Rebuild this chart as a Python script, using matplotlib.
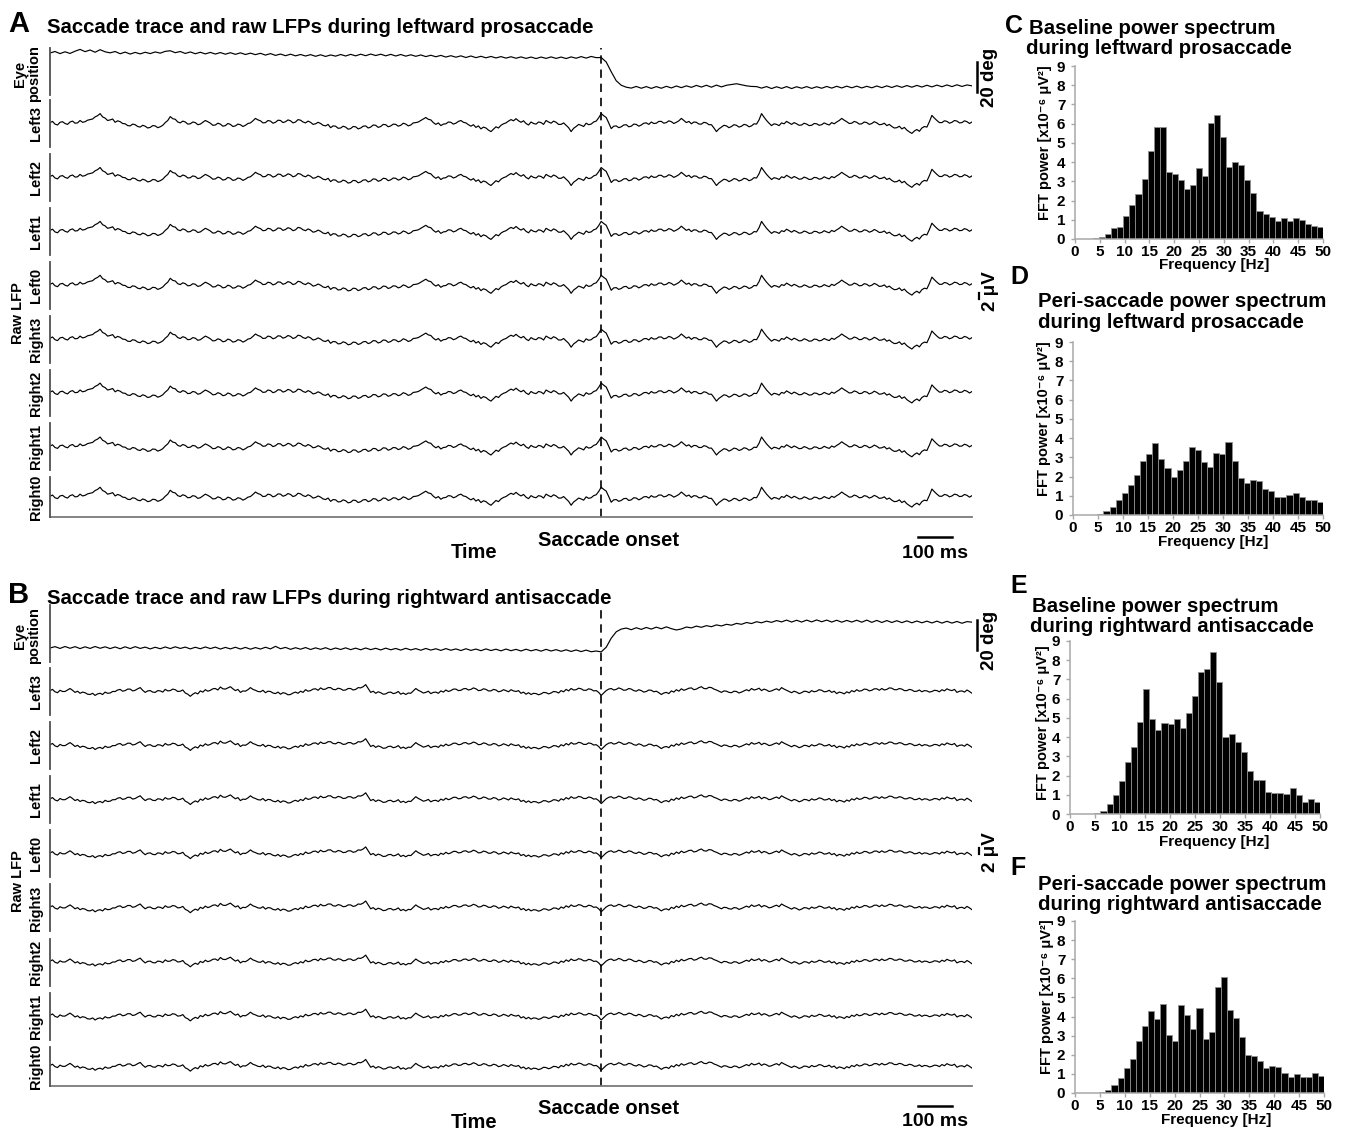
import numpy as np
import matplotlib
matplotlib.use("Agg")
import matplotlib.pyplot as plt
from matplotlib.lines import Line2D
from matplotlib import transforms

plt.rcParams['font.family'] = ['Liberation Sans', 'DejaVu Sans']
plt.rcParams['font.weight'] = 'bold'

W, H = 1345, 1133

# ---------------- data ----------------
channels = ["Left3", "Left2", "Left1", "Left0", "Right3", "Right2", "Right1", "Right0"]
T_START, T_END = -1620.0, 1090.0   # ms, saccade onset at 0

# Panel A: eye position (deg) - leftward prosaccade
eye_A = [0.0, 1.0, -0.4, 0.8, -0.3, 1.2, 2.4, 0.9, 2.0, 0.5,
         2.2, 0.8, 0.1, 1.0, -0.5, 0.6, -0.7, 0.4, -0.6, 0.5,
         -0.4, 0.7, -0.1, 1.1, 1.5, 0.2, 1.0, -0.3, 0.7, -0.5,
         0.5, -0.6, 0.4, -0.7, 0.3, -0.8, 0.2, -0.9, 0.1, -1.0,
         -0.1, -1.1, -0.2, -1.4, -0.4, -1.6, -0.7, -1.8, -0.8, -1.9,
         -1.0, -2.0, -1.1, -2.2, -1.2, -2.3, -1.3, -2.1, -1.0, -2.0,
         -0.9, -1.9, -0.8, -1.8, -0.7, -1.7, -0.8, -1.9, -0.9, -2.0,
         -1.0, -2.1, -1.2, -2.2, -1.3, -2.4, -1.5, -2.5, -1.6, -2.7,
         -1.8, -2.8, -1.9, -3.0, -2.0, -3.1, -2.2, -3.2, -2.3, -3.3,
         -2.4, -3.4, -2.5, -3.5, -2.6, -3.6, -2.7, -3.7, -2.7, -3.6,
         -2.6, -3.6, -2.7, -3.7, -2.6, -3.5, -2.4, -3.4, -2.3, -3.1,
         -3.0, -6.0, -12.5, -18.5, -21.5, -22.8, -23.4, -22.3, -23.5, -22.4,
         -23.6, -22.4, -23.5, -22.2, -23.3, -22.0, -23.1, -21.9, -22.9, -21.6,
         -22.7, -21.5, -22.8, -21.4, -22.6, -21.5, -21.0, -20.5, -21.2, -21.9,
         -22.3, -22.4, -23.4, -22.4, -23.7, -22.5, -23.6, -22.4, -23.7, -22.5,
         -23.5, -22.4, -23.6, -22.5, -23.5, -22.3, -23.4, -22.2, -23.3, -22.1,
         -23.2, -22.1, -23.3, -22.2, -23.2, -22.0, -23.1, -21.9, -23.0, -21.8,
         -22.9, -21.7, -22.8, -21.6, -22.7, -21.5, -22.6, -21.4, -22.5, -21.3,
         -22.4, -21.2, -22.3, -21.3, -21.9]

# Panel A: raw LFP waveform (uV), shared shape across channels
lfp_A = [0.3, 0.7, -0.2, -0.5, 0.4, 0.6, 0.0, -0.3, 0.5, 0.8,
         0.1, 0.2, 1.0, 0.4, 0.6, 1.1, 1.3, 1.5, 2.2, 2.6,
         3.3, 2.2, 1.8, 1.0, 1.2, 1.5, 0.4, 0.9, 0.6, 0.0,
         -0.1, -0.7, -0.8, -0.2, -0.4, -1.0, -1.2, -0.6, -0.9, -1.5,
         -1.3, -0.7, -0.8, -1.4, -1.1, -0.6, 0.3, 1.0, 2.3, 1.6,
         1.4, 0.5, 0.2, 0.8, 0.5, -0.2, -0.1, 0.5, 0.3, -0.4,
         -0.2, 0.4, 1.0, 0.6, 0.1, -0.6, -0.5, 0.1, -0.2, -0.9,
         -0.7, 0.0, -0.3, -1.0, -0.8, -0.2, -0.4, -1.0, -0.6, 0.0,
         0.2, 0.9, 1.7, 1.2, 0.9, 0.2, 0.3, 1.0, 0.8, 0.1,
         0.4, 1.1, 1.0, 0.3, 0.6, 1.2, 0.9, 0.2, 0.5, 1.3,
         1.1, 0.5, 0.2, 0.8, 0.4, -0.3, -0.1, 0.4, 0.0, -0.6,
         -0.8, -0.3, -1.4, -0.8, -0.9, -1.6, -1.5, -0.9, -1.2, -1.9,
         -1.7, -1.0, -1.1, -1.8, -1.5, -0.9, -0.8, -1.5, -1.2, -0.5,
         -0.6, -1.3, -1.0, -0.3, -0.4, -1.1, -0.8, -0.2, -0.3, -0.9,
         -0.6, 0.1, -0.2, -0.8, -0.5, 0.2, 0.3, 0.5, 1.0, 1.5,
         2.0, 1.4, 1.2, 0.3, -0.3, 0.2, -0.7, -0.2, -0.1, 0.5,
         0.4, -0.2, 0.1, 0.7, 1.0, 0.4, 0.2, -0.4, -0.9, -0.4,
         -1.3, -0.8, -1.8, -1.2, -1.5, -2.2, -2.7, -1.9, -1.1, -1.5,
         -0.6, -0.1, 0.2, 0.8, 1.3, 0.9, 1.6, 0.9, 0.4, 0.9,
         0.0, -0.5, 0.5, 0.0, -0.2, 0.5, 0.3, -0.3, 1.0, 0.5,
         0.1, 0.8, 0.4, -0.3, -0.3, 0.2, -0.6, -1.4, -2.7, -1.6,
         -1.0, -0.3, -0.6, -1.0, 0.1, -0.4, -0.2, 0.5, 0.8, 1.9,
         3.3, 2.6, 2.0, 0.2, -1.7, -0.9, -0.8, -1.4, -1.1, -0.5,
         -0.4, -1.1, -0.9, -0.2, -0.3, -0.9, -0.5, 0.1, 0.2, -0.3,
         0.5, 0.0, 0.1, 0.7, 0.7, 0.1, 0.3, 0.9, 0.6, 0.0,
         0.4, 0.9, 1.7, 1.0, 0.3, 0.7, -0.1, 0.5, 0.4, -0.2,
         -0.2, 0.4, 0.2, -0.4, -0.4, -1.5, -2.7, -1.8, -1.2, -0.6,
         -0.8, -1.4, -1.0, -0.4, -0.6, -1.2, -0.9, -0.3, -0.5, -1.1,
         -0.8, -0.1, -0.2, 1.2, 3.3, 2.1, 1.0, 0.1, -0.7, -0.1,
         -0.3, -0.7, 0.2, -0.1, 0.7, 0.2, -0.3, 0.3, -0.1, -0.6,
         -0.5, 0.1, -0.2, -0.7, -0.6, 0.0, -0.1, -0.6, -0.4, 0.2,
         -0.2, -0.5, 0.3, -0.1, 0.5, 1.0, 1.7, 1.1, 0.6, 0.0,
         0.1, 0.7, 0.4, -0.2, -0.1, 0.5, 0.3, -0.3, 0.0, 0.6,
         0.2, -0.4, -0.3, 0.1, -0.7, -0.3, -1.0, -1.5, -1.4, -0.9,
         -1.8, -1.3, -2.2, -2.8, -3.3, -2.5, -2.0, -2.6, -1.5, -1.0,
         -1.2, 0.6, 2.7, 1.8, 1.0, 0.3, 0.3, 0.9, 0.7, 0.1,
         0.4, 1.0, 0.8, 0.2, 0.3, 0.9, 0.6, 0.0, 0.5]

# Panel B: eye position (deg) - rightward antisaccade
eye_B = [0.0, 0.9, -0.3, 1.0, -0.2, 0.9, -0.4, 0.8, -0.3, 1.0,
         -0.2, 0.8, -0.4, 0.7, -0.5, 0.8, -0.4, 0.9, -0.3, 0.6,
         -0.6, 0.5, -0.5, 0.7, -0.4, 0.8, -0.3, 0.6, -0.6, 0.5,
         -0.5, 0.7, -0.4, 0.6, -0.7, 0.4, -0.6, 0.5, -0.7, 0.4,
         -0.8, 0.3, -0.7, 0.5, -0.6, 1.1, -0.5, 0.4, -0.9, 0.2,
         -0.8, 0.3, -1.0, 0.1, -0.9, 0.2, -1.1, 0.0, -1.0, 0.1,
         -1.1, -0.1, -1.2, 0.0, -1.1, -0.2, -1.3, -0.1, -1.2, -0.3,
         -1.4, -0.2, -1.3, -0.4, -1.5, -0.3, -1.4, -0.5, -1.6, -0.4,
         -1.5, -0.6, -1.7, -0.5, -1.6, -0.7, -1.8, -0.6, -1.7, -0.8,
         -1.9, -0.7, -1.8, -0.9, -2.0, -0.8, -1.9, -1.0, -2.1, -0.9,
         -2.0, -1.1, -2.2, -1.2, -2.3, -1.3, -2.4, -1.4, -2.5, -2.0,
         -2.6, 0.5, 6.5, 10.8, 12.6, 13.3, 12.2, 13.5, 12.4, 13.7,
         12.6, 13.9, 12.8, 14.1, 12.9, 12.0, 12.7, 14.0, 13.4, 14.6,
         13.8, 14.9, 14.2, 15.4, 14.7, 15.8, 15.2, 16.4, 15.8, 17.0,
         16.3, 17.5, 16.8, 17.9, 17.1, 18.3, 17.4, 18.6, 17.3, 18.5,
         17.3, 18.6, 17.4, 18.7, 17.5, 18.6, 17.3, 18.5, 17.2, 18.4,
         17.3, 18.5, 17.2, 18.6, 17.1, 18.4, 17.0, 18.3, 17.0, 18.2,
         16.9, 18.1, 16.8, 18.0, 16.8, 17.9, 16.7, 17.9, 16.6, 17.8,
         16.6, 17.7, 16.5, 17.6, 17.2]

# Panel B: raw LFP waveform (uV)
lfp_B = [0.3, 0.7, -0.1, -0.4, 0.4, 0.0, 0.0, 0.5, 1.0, 0.4,
         -0.3, 0.1, -0.6, -0.2, -0.4, -0.9, -1.0, -0.6, -1.3, -0.8,
         -0.6, -1.0, -0.2, -0.6, -0.5, 0.0, 0.0, 0.5, 0.7, 0.1,
         0.3, 0.8, 0.8, 0.2, 0.4, 0.9, 1.3, 0.4, -0.3, 0.2,
         0.3, -0.2, -0.3, 0.3, 0.2, -0.2, 0.7, 0.2, 0.3, 0.8,
         0.6, 0.0, 0.1, 0.5, -0.5, -0.9, -1.6, -0.9, -0.4, -0.8,
         0.2, -0.2, 0.6, 0.1, 0.4, 0.9, 1.0, 0.5, 1.5, 0.9,
         0.8, 1.2, 1.6, 0.9, 0.3, 0.7, -0.3, 0.2, 0.1, 0.6,
         1.3, 0.7, 0.4, 0.0, -0.1, 0.4, -0.4, 0.1, 0.0, -0.5,
         -0.7, -0.2, -0.9, -0.4, -0.6, -1.1, -1.0, -0.5, -0.2, -0.6,
         0.1, -0.3, 0.6, 0.1, 0.3, 0.8, 0.9, 0.4, 1.2, 0.7,
         0.8, 1.3, 1.3, 0.7, 0.6, 1.1, 0.9, 0.4, 0.5, 1.0,
         1.0, 0.5, 0.7, 1.3, 1.2, 1.6, 2.3, 1.0, -0.3, 0.1,
         -0.6, -0.1, -0.4, -0.9, -0.8, -0.3, -0.2, -0.7, -0.5, 0.0,
         -0.9, -0.5, -1.0, -0.5, -0.6, 0.2, 1.0, 0.4, 0.0, -0.5,
         -0.3, 0.1, -0.7, -0.3, -0.2, -0.6, 0.2, -0.2, 0.5, 0.0,
         0.3, 0.8, 0.8, 0.3, 0.4, 0.9, 1.0, 0.5, 0.7, 1.2,
         0.9, 0.3, 0.4, 0.9, 0.7, 0.2, 0.2, 0.7, 0.5, -0.1,
         0.1, 0.6, 0.3, -0.1, 0.6, 0.2, 0.0, 0.3, -0.6, -0.2,
         -0.9, -0.4, -1.0, -0.6, -0.7, -1.1, -0.8, -0.3, -0.4, -0.8,
         -0.5, 0.0, -0.1, -0.5, 0.3, -0.1, 0.7, 0.2, 1.0, 0.5,
         0.6, 1.1, 0.9, 0.4, 0.4, 0.9, 0.7, 0.2, 0.3, -0.3,
         -1.3, -0.5, 0.3, 0.8, 1.0, 0.5, 0.7, 1.2, 0.9, 0.4,
         0.5, 1.0, 0.8, 0.3, 0.1, 0.6, 0.3, -0.2, 0.0, 0.5,
         0.4, -0.1, 0.1, -0.4, -1.0, -0.5, -0.3, -0.7, 0.2, -0.2,
         0.6, 0.1, 0.9, 0.4, 0.7, 1.1, 1.2, 0.6, 0.8, 1.3,
         1.6, 1.0, 0.9, 1.4, 1.3, 0.8, 0.5, 0.1, -0.3, 0.2,
         0.1, -0.3, -0.4, 0.1, 0.0, -0.5, -0.2, 0.2, 0.6, 0.2,
         1.0, 0.5, 0.7, 1.1, 0.3, 0.8, 0.5, 0.0, 0.2, 0.6,
         0.9, 0.4, 1.3, 0.8, 0.4, 0.0, -0.4, 0.1, -0.2, -0.7,
         -0.4, 0.1, 0.0, -0.4, 0.3, -0.1, 0.1, 0.6, 0.4, -0.1,
         0.0, 0.4, -0.3, 0.1, -0.7, -0.2, -0.4, -0.8, -0.1, -0.5,
         0.3, -0.1, 0.6, 0.1, 0.3, 0.8, 0.7, 0.2, 0.4, 0.9,
         0.9, 0.4, 1.0, 0.5, 0.7, 1.2, 1.1, 0.6, 0.6, 1.0,
         0.8, 0.3, 0.3, 0.7, 0.5, 0.0, 0.1, 0.5, -0.1, 0.3,
         0.2, -0.2, 0.0, 0.4, 0.3, -0.1, 0.6, 0.2, 0.9, 0.5,
         0.3, 0.7, -0.3, 0.1, 0.2, -0.2, 0.5, 0.0, -0.6]

# Power spectra (x10^-6 uV^2), 41 bins spanning 0-50 Hz
FREQ_MAX = 50
spec_C = [0, 0, 0, 0.03, 0.1, 0.25, 0.55, 0.65, 1.2, 1.75, 2.35, 3.1, 4.6, 5.85, 5.85,
          3.5, 3.4, 3.05, 2.6, 2.8, 3.7, 3.3, 6.05, 6.45, 5.3, 3.75, 4.0, 3.85, 3.05,
          2.4, 1.45, 1.3, 1.15, 0.95, 1.1, 0.95, 1.1, 1.0, 0.8, 0.7, 0.65]
spec_D = [0, 0, 0, 0.02, 0.07, 0.2, 0.4, 0.8, 1.15, 1.55, 2.1, 2.8, 3.15, 3.75, 2.9,
          2.45, 2.0, 2.35, 2.8, 3.55, 3.4, 2.75, 2.5, 3.2, 3.15, 3.8, 2.8, 1.95, 1.65,
          1.8, 1.75, 1.35, 1.25, 0.95, 0.92, 1.05, 1.15, 0.95, 0.8, 0.8, 0.7]
spec_E = [0, 0, 0, 0, 0.05, 0.15, 0.5, 1.0, 1.7, 2.7, 3.5, 4.8, 6.5, 4.95, 4.35,
          4.75, 4.7, 4.95, 4.5, 5.25, 6.15, 7.4, 7.55, 8.45, 6.85, 4.0, 4.15, 3.75, 3.25,
          2.25, 1.75, 1.75, 1.15, 1.1, 1.08, 1.05, 1.35, 1.0, 0.65, 0.8, 0.65]
spec_F = [0, 0, 0, 0.02, 0.07, 0.18, 0.42, 0.78, 1.3, 1.8, 2.7, 3.5, 4.3, 3.85, 4.65,
          3.05, 2.7, 4.6, 4.1, 3.35, 4.45, 2.8, 3.2, 5.55, 6.05, 4.35, 3.9, 2.95, 2.0,
          1.95, 1.7, 1.3, 1.4, 1.35, 1.05, 0.85, 1.0, 0.85, 0.85, 1.05, 0.9]

x_ticks = [0, 5, 10, 15, 20, 25, 30, 35, 40, 45, 50]
y_ticks = [0, 1, 2, 3, 4, 5, 6, 7, 8, 9]

# ---------------- drawing helpers ----------------
fig = plt.figure(figsize=(W / 100, H / 100), dpi=100)
fig.patch.set_facecolor('white')


def fx(x):
    return x / W


def fy(y):
    return 1 - y / H


def ax_px(l, t, r, b):
    a = fig.add_axes([fx(l), fy(b), (r - l) / W, (b - t) / H])
    a.patch.set_visible(False)
    return a


def txt(x, y, s, **kw):
    return fig.text(fx(x), fy(y), s, **kw)


PX_UV = 3.0    # pixels per microvolt
PX_DEG = 1.5   # pixels per degree
X0, X1 = 50, 972
TRACE_LW = 0.85


def draw_panel(letter, title, g, eye, lfp):
    txt(8, g['title_y'] - 1, letter, fontsize=21, fontweight='bold', va='baseline')
    txt(47, g['title_y'], title, fontsize=14.7, fontweight='bold', va='baseline')

    ov = ax_px(X0, g['eye_top'], X1, g['bottom'])
    ov.set_xlim(T_START, T_END)
    ov.set_ylim(0, 1)
    for s in ['top', 'right', 'left']:
        ov.spines[s].set_visible(False)
    ov.spines['bottom'].set_color('#7a7a7a')
    ov.spines['bottom'].set_linewidth(1.3)
    ov.set_xticks([])
    ov.set_yticks([])
    ov.axvline(0, color='black', lw=1.2, ls=(0, (5, 3.5)))

    def row_axes(top, bot):
        a = ax_px(X0, top, X1, bot)
        a.set_xlim(T_START, T_END)
        for s in ['top', 'right', 'bottom']:
            a.spines[s].set_visible(False)
        a.spines['left'].set_color('#505050')
        a.spines['left'].set_linewidth(1.3)
        a.set_xticks([])
        a.set_yticks([])
        return a

    ae = row_axes(g['eye_top'], g['eye_bot'])
    ytop = (g['eye_zero'] - g['eye_top']) / PX_DEG
    ybot = -(g['eye_bot'] - g['eye_zero']) / PX_DEG
    ae.set_ylim(ybot, ytop)
    t_eye = np.linspace(T_START, T_END, len(eye))
    ae.plot(t_eye, eye, color='black', lw=TRACE_LW)
    txt(27, (g['eye_top'] + g['eye_bot']) / 2 + 2, "Eye\nposition", rotation=90,
        ha='center', va='center', fontsize=10.5, fontweight='bold', linespacing=1.05)

    trd = transforms.blended_transform_factory(fig.transFigure, ae.transData)
    fig.add_artist(Line2D([fx(977), fx(977)], [g['deg_bar'], g['deg_bar'] + 20],
                          transform=trd, color='black', lw=1.8))
    txt(990, g['deg_text_y'], "20 deg", rotation=90, ha='center', va='center',
        fontsize=13.5, fontweight='bold')

    t_lfp = np.linspace(T_START, T_END, len(lfp))
    for k, name in enumerate(channels):
        top = g['row_top'] + k * g['pitch']
        bot = min(top + 47, g['bottom'])
        a = row_axes(top, bot)
        half = (bot - top) / 2 / PX_UV
        a.set_ylim(-half, half)
        a.plot(t_lfp, lfp, color='black', lw=TRACE_LW)
        txt(36, (top + bot) / 2, name, rotation=90, ha='center', va='center',
            fontsize=10.5, fontweight='bold')
        if k == 3:
            tru = transforms.blended_transform_factory(fig.transFigure, a.transData)
            fig.add_artist(Line2D([fx(979), fx(979)], [g['uv_bar'], g['uv_bar'] + 2],
                                  transform=tru, color='black', lw=1.6))
            txt(991, g['uv_text_y'], "2 μV", rotation=90, ha='center', va='center',
                fontsize=13.5, fontweight='bold')
    txt(18, g['row_top'] + 4 * g['pitch'] - 3, "Raw LFP", rotation=90, ha='center',
        va='center', fontsize=10.5, fontweight='bold')

    b = g['bottom']
    txt(609, b + 23, "Saccade onset", ha='center', va='center', fontsize=14.5,
        fontweight='bold')
    txt(474, b + 36, "Time", ha='center', va='center', fontsize=14.5, fontweight='bold')
    txt(935, b + 36, "100 ms", ha='center', va='center', fontsize=14, fontweight='bold')
    trt = transforms.blended_transform_factory(ov.transData, fig.transFigure)
    fig.add_artist(Line2D([932, 1032], [fy(b + 20), fy(b + 20)], transform=trt,
                          color='black', lw=1.8))


geomA = dict(title_y=33, eye_top=48, eye_bot=95, eye_zero=53, row_top=100, pitch=53.9,
             bottom=517, deg_bar=-26, deg_text_y=77, uv_bar=-4.6, uv_text_y=291)
geomB = dict(title_y=604, eye_top=605, eye_bot=662, eye_zero=648, row_top=668, pitch=54.1,
             bottom=1086, deg_bar=-1.3, deg_text_y=640, uv_bar=-0.2, uv_text_y=852)

draw_panel("A", "Saccade trace and raw LFPs during leftward prosaccade", geomA, eye_A, lfp_A)
draw_panel("B", "Saccade trace and raw LFPs during rightward antisaccade", geomB, eye_B, lfp_B)


def draw_hist(vals, box, letter, letter_xy, lines, line_xy, ylab_xy, xlab_xy):
    l, t, r, b = box
    ax = ax_px(l, t, r, b)
    width = FREQ_MAX / len(vals)
    xs = np.arange(len(vals)) * width
    ax.bar(xs, vals, width=width, align='edge', color='black', edgecolor='#8f8f8f',
           linewidth=0.6)
    ax.set_xlim(0, FREQ_MAX)
    ax.set_ylim(0, 9)
    ax.set_xticks(x_ticks)
    ax.set_yticks(y_ticks)
    for s in ['top', 'right']:
        ax.spines[s].set_visible(False)
    for s in ['left', 'bottom']:
        ax.spines[s].set_color('#a8a8a8')
        ax.spines[s].set_linewidth(1.1)
    ax.tick_params(axis='x', length=3, width=1, color='#a8a8a8', pad=1.0, labelsize=11)
    ax.tick_params(axis='y', length=3, width=1, color='#a8a8a8', pad=4, labelsize=11)
    for lab in ax.get_xticklabels() + ax.get_yticklabels():
        lab.set_fontweight('bold')
    txt(letter_xy[0], letter_xy[1], letter, fontsize=18, fontweight='bold', va='baseline')
    for s, (x, y) in zip(lines, line_xy):
        txt(x, y, s, fontsize=14.7, fontweight='bold', va='baseline')
    txt(ylab_xy[0], ylab_xy[1], "FFT power [x10⁻⁶ μV²]", rotation=90, ha='center',
        va='center', fontsize=10.5, fontweight='bold')
    txt(xlab_xy[0], xlab_xy[1], "Frequency [Hz]", ha='center', va='center',
        fontsize=11, fontweight='bold')


draw_hist(spec_C, (1075, 66, 1323, 239), "C", (1005, 33),
          ["Baseline power spectrum", "during leftward prosaccade"],
          [(1029, 34), (1026, 54)], (1045, 143), (1214, 265))
draw_hist(spec_D, (1073, 342, 1323, 515), "D", (1010, 284),
          ["Peri-saccade power spectrum", "during leftward prosaccade"],
          [(1038, 307), (1038, 328)], (1044, 419), (1213, 542))
draw_hist(spec_E, (1070, 641, 1320, 814), "E", (1010, 593),
          ["Baseline power spectrum", "during rightward antisaccade"],
          [(1032, 612), (1030, 632)], (1043, 723), (1214, 842))
draw_hist(spec_F, (1075, 921, 1324, 1093), "F", (1010, 875),
          ["Peri-saccade power spectrum", "during rightward antisaccade"],
          [(1038, 890), (1038, 910)], (1047, 997), (1216, 1120))

fig.savefig("out.png", dpi=100, facecolor='white')
